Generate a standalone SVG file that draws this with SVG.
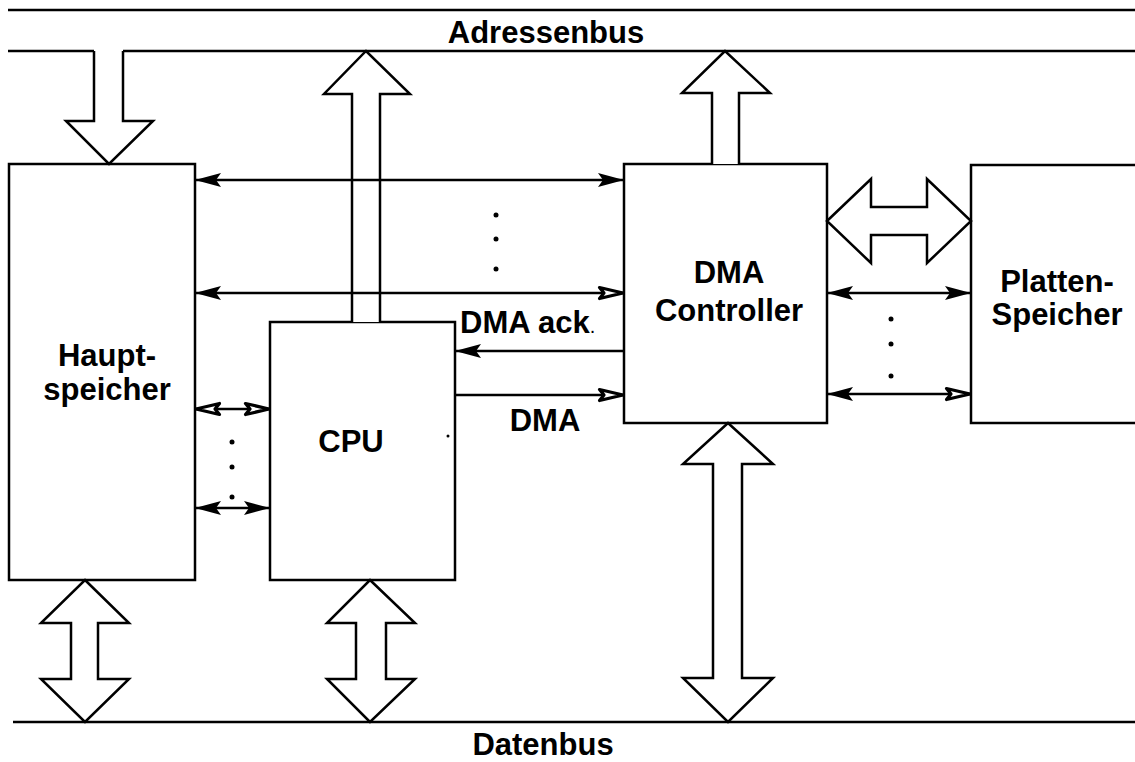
<svg xmlns="http://www.w3.org/2000/svg" width="1135" height="762" viewBox="0 0 1135 762">
  <style>
    .box { fill: #fff; stroke: #000; stroke-width: 2.5; }
    .bus { fill: none; stroke: #000; stroke-width: 2.5; }
    .block { fill: #fff; stroke: #000; stroke-width: 2.5; stroke-linejoin: miter; }
    .sig { fill: none; stroke: #000; stroke-width: 2.5; }
    .dot { fill: #000; }
    text { font-family: "Liberation Sans", Arial, sans-serif; font-weight: bold; font-size: 31px; fill: #000; }
    .mid { text-anchor: middle; }
  </style>
  <defs>
    <marker id="ahF" markerUnits="userSpaceOnUse" viewBox="0 0 26 14" markerWidth="26" markerHeight="14" refX="26" refY="7" orient="auto-start-reverse">
      <path d="M0,0 L26,7 L0,14 L5,7 Z" fill="#000"/>
    </marker>
    <marker id="ahH" markerUnits="userSpaceOnUse" viewBox="-2 -2 30 18" markerWidth="30" markerHeight="18" refX="26" refY="7" orient="auto-start-reverse">
      <path d="M1.5,1.5 L25,7 L1.5,12.5 L6,7 Z" fill="#fff" stroke="#000" stroke-width="3.2" stroke-linejoin="round"/>
    </marker>
  </defs>
  <rect width="1135" height="762" fill="#fff"/>

  <g id="adressenbus">
    <line class="bus" x1="8" y1="10" x2="1135" y2="10"/>
    <path class="bus" d="M8,51 H94 M123,51 H1135"/>
    <text class="mid" x="546" y="43">Adressenbus</text>
  </g>

  <g id="datenbus">
    <line class="bus" x1="13" y1="722" x2="1135" y2="722"/>
    <text class="mid" x="543" y="755">Datenbus</text>
  </g>

  <g id="hauptspeicher">
    <rect class="box" x="9" y="164" width="186" height="416"/>
    <text class="mid" x="107" y="366">Haupt-</text>
    <text class="mid" x="107" y="400">speicher</text>
  </g>

  <g id="cpu">
    <rect class="box" x="270" y="322" width="185" height="258"/>
    <text class="mid" x="351" y="452">CPU</text>
    <circle class="dot" cx="448" cy="436" r="1.5"/>
  </g>

  <g id="dma-controller">
    <rect class="box" x="624" y="164" width="203" height="259"/>
    <text class="mid" x="729" y="283">DMA</text>
    <text class="mid" x="729" y="321">Controller</text>
  </g>

  <g id="plattenspeicher">
    <rect class="box" x="971" y="165" width="170" height="258"/>
    <text class="mid" x="1057" y="292">Platten-</text>
    <text class="mid" x="1057" y="325">Speicher</text>
  </g>

  <g id="connectors">
    <!-- block arrows to address bus -->
    <path class="block" d="M94,51 V121 H66 L109,164 L153,121 H123 V51"/>
    <path class="block" d="M352,322 V94 H324 L366,51 L410,94 H380 V322"/>
    <path class="block" d="M712,164 V93 H682 L725,51 L770,93 H739 V164"/>
    <!-- DMA <-> Plattenspeicher block arrow -->
    <path class="block" d="M827,221 L871,179 V207 H927 V179 L971,221 L927,263 V235 H871 V263 Z"/>
    <!-- block arrows to data bus -->
    <path class="block" d="M85,580 L129,623 H98 V679 H129 L85,722 L41,679 H71 V623 H41 Z"/>
    <path class="block" d="M370,580 L415,623 H386 V679 H415 L370,722 L327,679 H356 V623 H327 Z"/>
    <path class="block" d="M728,423 L773,464 H742 V678 H773 L728,722 L683,678 H713 V464 H683 Z"/>

    <!-- Hauptspeicher <-> DMA -->
    <line class="sig" x1="195" y1="180" x2="624" y2="180" marker-start="url(#ahF)" marker-end="url(#ahF)"/>
    <line class="sig" x1="195" y1="293" x2="624" y2="293" marker-start="url(#ahF)" marker-end="url(#ahH)"/>
    <circle class="dot" cx="496" cy="215" r="2.5"/>
    <circle class="dot" cx="496" cy="239" r="2.5"/>
    <circle class="dot" cx="496" cy="269" r="2.5"/>

    <!-- DMA ack / DMA -->
    <line class="sig" x1="624" y1="351" x2="455" y2="351" marker-end="url(#ahF)"/>
    <line class="sig" x1="455" y1="395" x2="624" y2="395" marker-end="url(#ahH)"/>
    <text x="460" y="333">DMA ack<tspan font-size="20" font-weight="normal">.</tspan></text>
    <text class="mid" x="545" y="431">DMA</text>

    <!-- Hauptspeicher <-> CPU -->
    <line class="sig" x1="195" y1="409" x2="270" y2="409" marker-start="url(#ahH)" marker-end="url(#ahH)"/>
    <line class="sig" x1="195" y1="508" x2="270" y2="508" marker-start="url(#ahF)" marker-end="url(#ahF)"/>
    <circle class="dot" cx="232" cy="442" r="2.5"/>
    <circle class="dot" cx="232" cy="467" r="2.5"/>
    <circle class="dot" cx="232" cy="497" r="2.5"/>

    <!-- DMA <-> Plattenspeicher signals -->
    <line class="sig" x1="827" y1="293" x2="971" y2="293" marker-start="url(#ahF)" marker-end="url(#ahF)"/>
    <line class="sig" x1="827" y1="394" x2="971" y2="394" marker-start="url(#ahF)" marker-end="url(#ahH)"/>
    <circle class="dot" cx="891" cy="319" r="2.5"/>
    <circle class="dot" cx="891" cy="344" r="2.5"/>
    <circle class="dot" cx="891" cy="376" r="2.5"/>
  </g>
</svg>
